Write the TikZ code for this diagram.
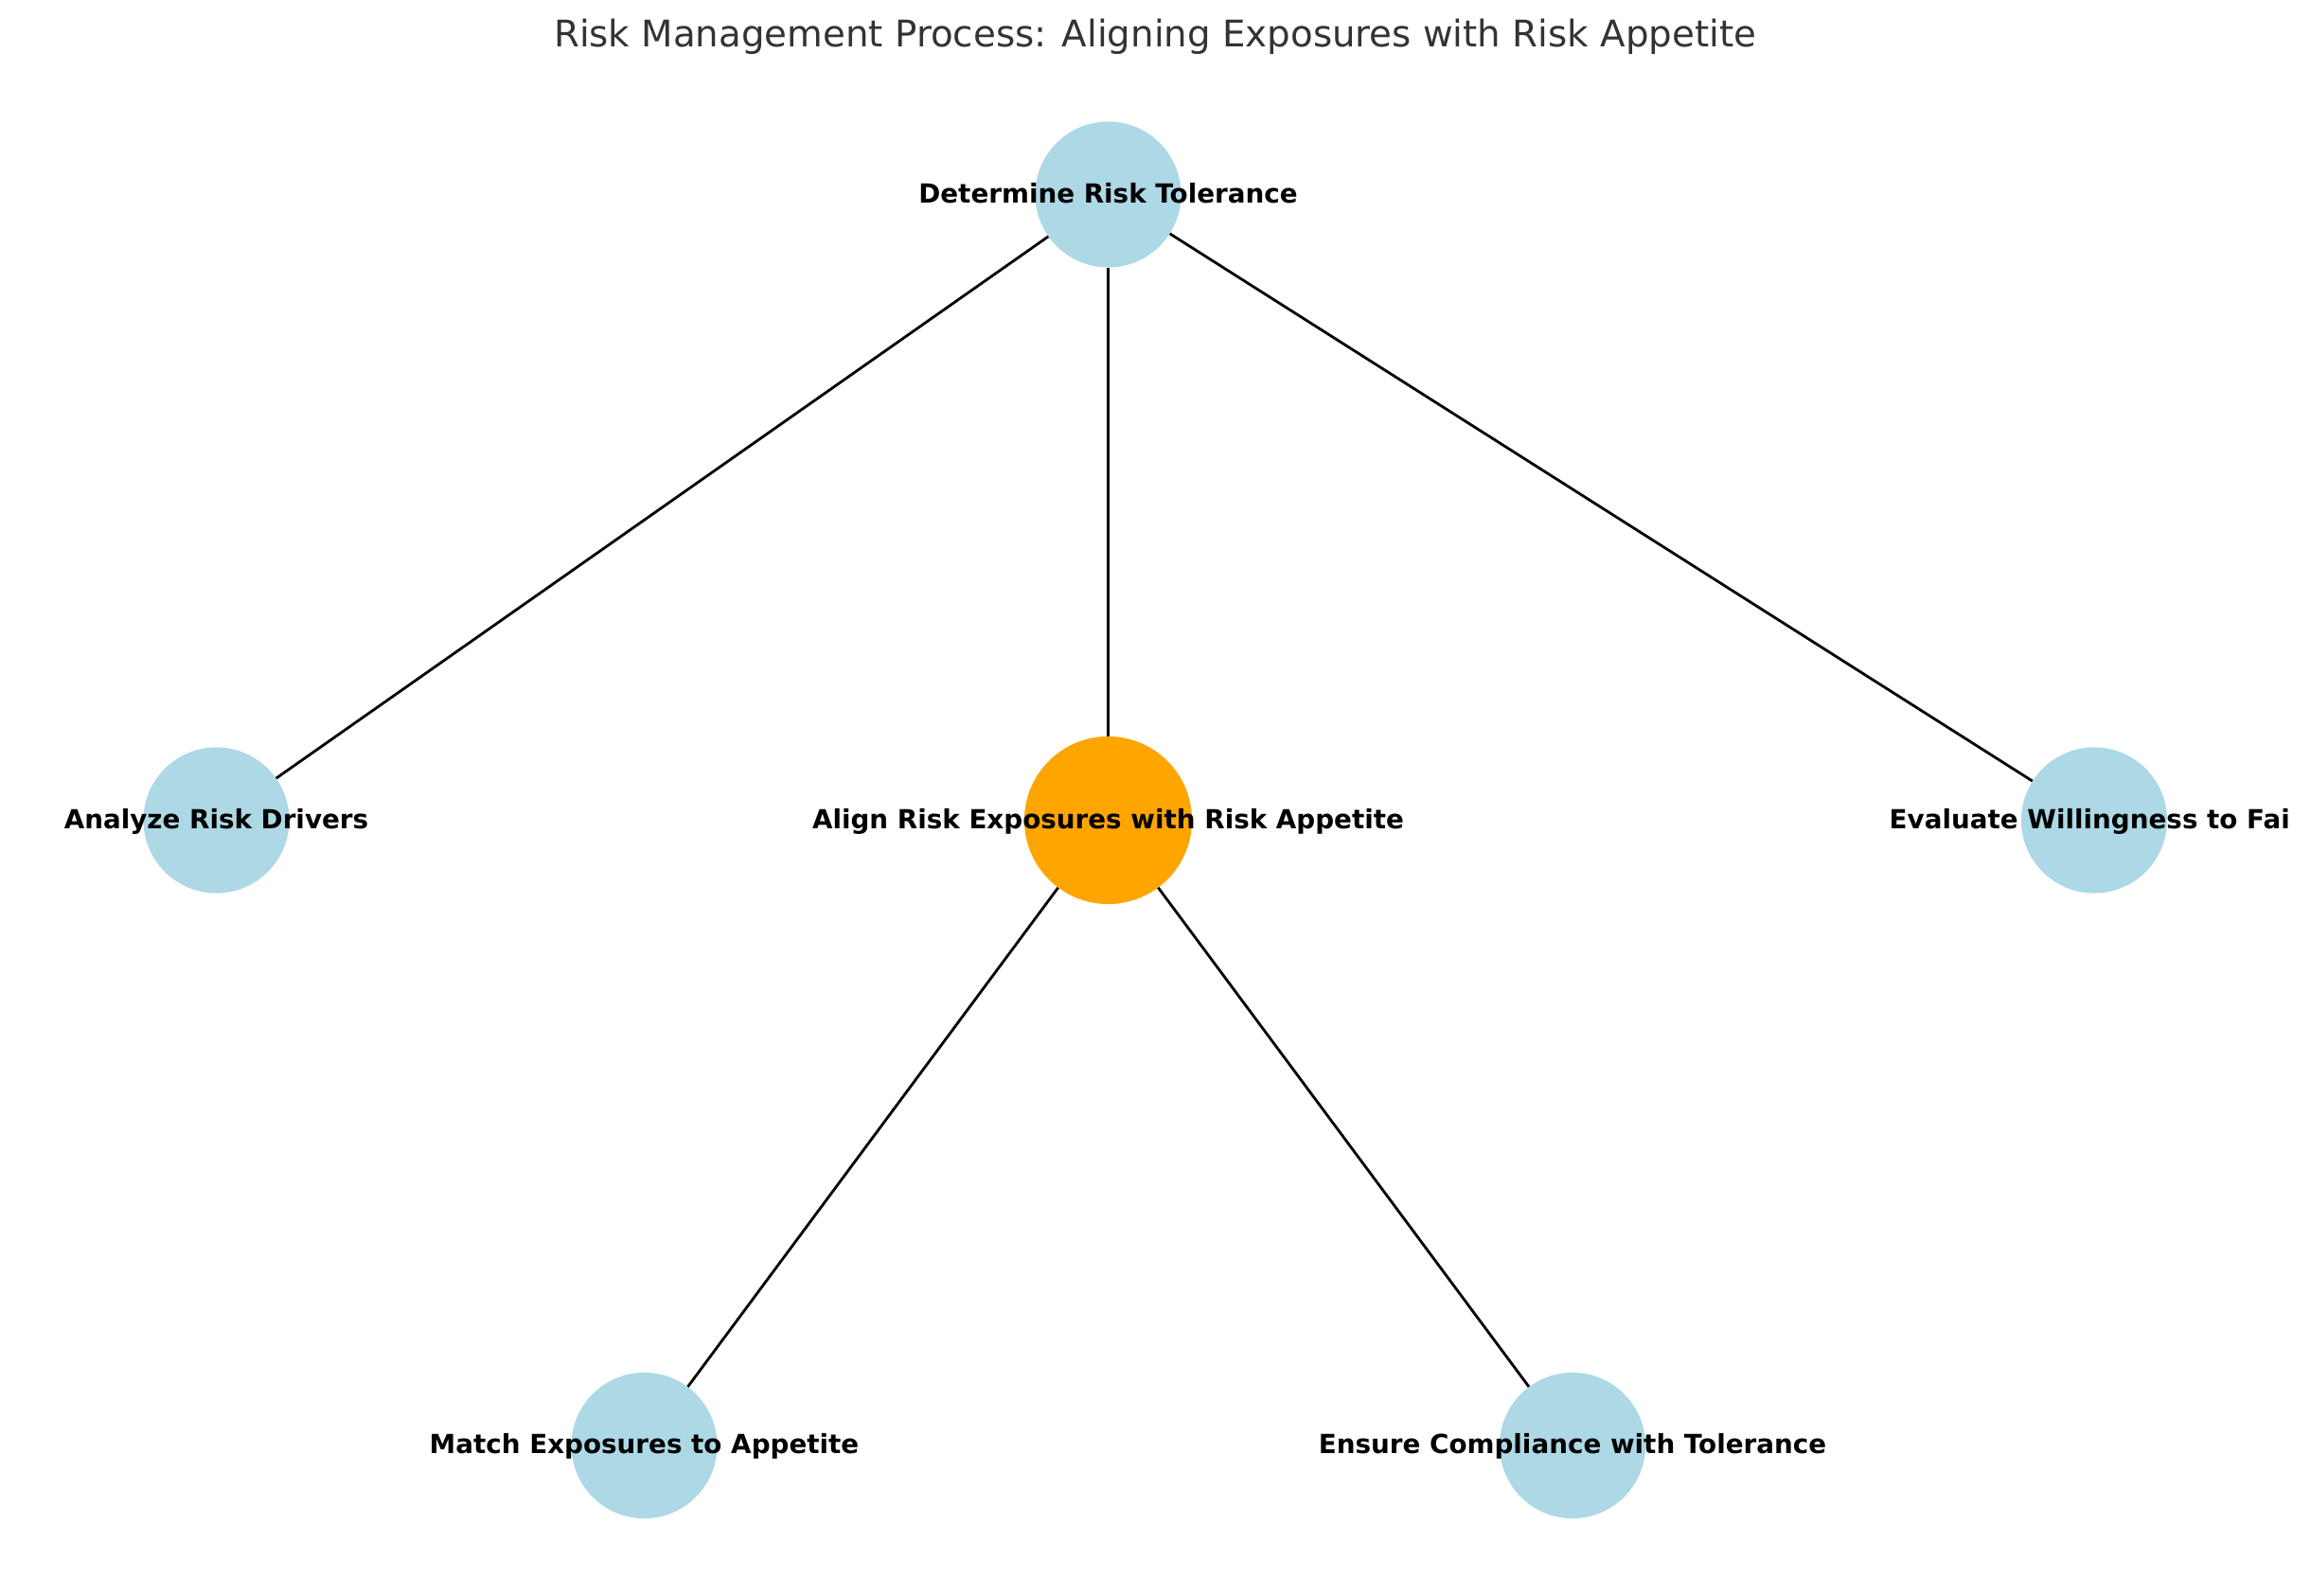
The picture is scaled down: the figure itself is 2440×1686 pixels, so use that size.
\documentclass[tikz,border=0pt]{standalone}
\usepackage{fontspec}
\setmainfont{DejaVu Sans}
\usepackage{tikz}
\usetikzlibrary{backgrounds}
\definecolor{nodeblue}{HTML}{ADD8E6}
\definecolor{nodeorange}{HTML}{FFA500}
\definecolor{titlegray}{HTML}{333333}

\begin{document}
\begin{tikzpicture}[x=0.01cm, y=-0.01cm,
  risk/.style={circle, fill=nodeblue, minimum size=1.54cm, inner sep=0pt, outer sep=0pt},
  core/.style={risk, fill=nodeorange, minimum size=1.77cm},
  txt/.style={font=\fontsize{7.9}{9}\selectfont\bfseries, text height=7pt, text depth=2pt, inner sep=0pt},
  link/.style={line width=0.8pt, black}]

  \useasboundingbox (0,0) rectangle (2440,1686);

  % Title
  \node[anchor=base, text=titlegray, font=\fontsize{11.02}{13}\selectfont] (title) at (1220,50)
    {Risk Management Process: Aligning Exposures with Risk Appetite};

  % Nodes
  \node[risk, label={[txt]center:Determine Risk Tolerance}] (tol) at (1170.5,205.5) {};
  \node[risk, label={[txt]center:Analyze Risk Drivers}] (drv) at (228.5,866.5) {};
  \node[core, label={[txt]center:Align Risk Exposures with Risk Appetite}] (align) at (1170.5,866.5) {};
  \node[risk, label={[txt, xshift=-1.35pt]center:Evaluate Willingness to Fai}] (will) at (2212,866.5) {};
  \node[risk, label={[txt]center:Match Exposures to Appetite}] (match) at (680.5,1527) {};
  \node[risk, label={[txt]center:Ensure Compliance with Tolerance}] (comp) at (1661,1527) {};

  % Edges
  \begin{scope}[on background layer]
    \draw[link] (tol) -- (drv);
    \draw[link] (tol) -- (align);
    \draw[link] (tol) -- (will);
    \draw[link] (align) -- (match);
    \draw[link] (align) -- (comp);
  \end{scope}
\end{tikzpicture}
\end{document}
